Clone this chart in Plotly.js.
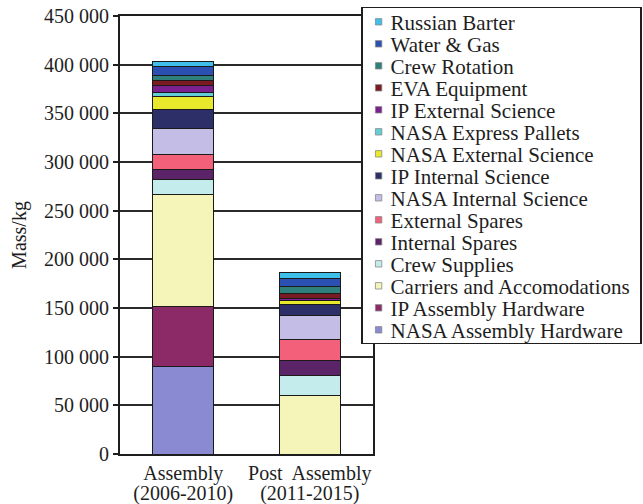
<!DOCTYPE html>
<html>
<head>
<meta charset="utf-8">
<script src="https://cdn.plot.ly/plotly-3.0.1.min.js"></script>
<style>html,body{margin:0;padding:0;background:#fff;}#chart{width:643px;height:504px;}</style>
</head>
<body>
<div id="chart"></div>
<script>
// Categories (x axis)
const categories = ["Assembly<br>(2006-2010)", "Post  Assembly<br>(2011-2015)"];

// Series, bottom of stack first (kg)
const seriesNames = [
  "NASA Assembly Hardware",
  "IP Assembly Hardware",
  "Carriers and Accomodations",
  "Crew Supplies",
  "Internal Spares",
  "External Spares",
  "NASA Internal Science",
  "IP Internal Science",
  "NASA External Science",
  "NASA Express Pallets",
  "IP External Science",
  "EVA Equipment",
  "Crew Rotation",
  "Water & Gas",
  "Russian Barter"
];
const nasaAssembly   = [90000, 0];
const ipAssembly     = [62000, 0];
const carriers       = [115000, 60000];
const crewSupplies   = [15500, 20600];
const internalSpares = [9500, 15100];
const externalSpares = [15500, 21600];
const nasaInternal   = [27400, 24700];
const ipInternal     = [18900, 11300];
const nasaExternal   = [13000, 4100];
const expressPallets = [4800, 0];
const ipExternal     = [6900, 2400];
const evaEquipment   = [5400, 5600];
const crewRotation   = [4900, 6800];
const waterGas       = [8900, 8600];
const russianBarter  = [5800, 5800];

const seriesValues = [nasaAssembly, ipAssembly, carriers, crewSupplies, internalSpares,
  externalSpares, nasaInternal, ipInternal, nasaExternal, expressPallets, ipExternal,
  evaEquipment, crewRotation, waterGas, russianBarter];

const seriesColors = ["#8a8ad2", "#8c2a68", "#f5f5b9", "#c4ecec", "#5b2468",
  "#f2607a", "#c4bee6", "#2c2f68", "#e8e82c", "#62cfd6", "#7b208e",
  "#7a1b24", "#2f7f7c", "#2c50b2", "#3fc0ea"];

// Y axis ticks
const yTickVals = [0, 50000, 100000, 150000, 200000, 250000, 300000, 350000, 400000, 450000];
const yTickText = ["0", "50 000", "100 000", "150 000", "200 000", "250 000", "300 000", "350 000", "400 000", "450 000"];

const serif = "'Liberation Serif', 'Times New Roman', serif";
const ink = "#1e1e1e";

const traces = seriesNames.map((name, i) => ({
  type: "bar",
  name: name,
  x: categories,
  y: seriesValues[i],
  marker: {color: seriesColors[i], line: {color: "#1a1a1a", width: 1}},
  hoverinfo: "skip"
}));

const layout = {
  width: 643, height: 504,
  margin: {l: 120, r: 270, t: 16, b: 50, autoexpand: false},
  paper_bgcolor: "#fff", plot_bgcolor: "#fff",
  barmode: "stack",
  bargap: 0.52,
  font: {family: serif, size: 20, color: ink},
  showlegend: true,
  legend: {
    x: 0.953, xanchor: "left", y: 1.021, yanchor: "top",
    traceorder: "reversed",
    bgcolor: "#fff", bordercolor: ink, borderwidth: 1.5,
    font: {family: serif, size: 21, color: ink},
    itemwidth: 30,
    tracegroupgap: 0,
    maxheight: 1
  },
  xaxis: {
    type: "category",
    range: [-0.5, 1.5],
    showline: true, linecolor: ink, linewidth: 2,
    mirror: true,
    showgrid: false, ticks: "",
    tickfont: {family: serif, size: 20, color: ink},
    fixedrange: true
  },
  yaxis: {
    range: [0, 450000],
    tickvals: yTickVals, ticktext: yTickText,
    showline: true, linecolor: ink, linewidth: 2,
    mirror: true,
    showgrid: true, gridcolor: "#2a2a2a", gridwidth: 2,
    ticks: "outside", ticklen: 5, tickcolor: ink, tickwidth: 2,
    tickfont: {family: serif, size: 20, color: ink},
    title: {text: "Mass/kg", font: {family: serif, size: 20, color: ink}, standoff: 12},
    zeroline: false,
    fixedrange: true
  }
};

// Tighten the legend rows to match the compact reference legend
function tightenLegend(gd) {
  const SP = 22, BOXW = 279, BOXH = 336;
  const legend = gd.querySelector(".legend");
  if (!legend) return;
  const items = Array.from(legend.querySelectorAll("g.traces"));
  const parse = el => {
    const m = (el.getAttribute("transform") || "").match(/translate\(\s*([-\d.e]+)[\s,]+([-\d.e]+)\s*\)/);
    return m ? [parseFloat(m[1]), parseFloat(m[2])] : [0, 0];
  };
  const pos = items.map(parse);
  const order = items.map((el, i) => i).sort((a, b) => pos[a][1] - pos[b][1]);
  if (order.length < 2) return;
  const y0 = (BOXH - SP * (order.length - 1)) / 2 + 1;
  order.forEach((idx, k) => {
    items[idx].setAttribute("transform", "translate(" + pos[idx][0] + "," + (y0 + k * SP) + ")");
    const txt = items[idx].querySelector("text.legendtext");
    if (txt) txt.setAttribute("x", "28");
    items[idx].querySelectorAll(".legendpoints path").forEach(p => {
      const b = p.getBBox();
      const cx = b.x + b.width / 2 - 4, cy = b.y + b.height / 2;
      const h = 3.2;
      p.setAttribute("d", "M" + (cx + h) + "," + (cy + h) + "H" + (cx - h) + "V" + (cy - h) + "H" + (cx + h) + "Z");
      p.style.strokeWidth = "0.8px";
      p.style.stroke = "#888";
    });
  });
  const bg = legend.querySelector("rect.bg");
  if (bg) {
    bg.setAttribute("height", String(BOXH));
    bg.setAttribute("width", String(BOXW));
  }
  const sb = legend.querySelector(".scrollbox");
  if (sb) sb.removeAttribute("clip-path");
  const bar = legend.querySelector("rect.scrollbar");
  if (bar) bar.style.display = "none";
}

// Tighten the two-line category labels
function tightenTicks(gd) {
  gd.querySelectorAll(".xtick text").forEach(t => {
    const lines = t.querySelectorAll("tspan.line");
    lines.forEach((s, i) => { if (i > 0) s.setAttribute("dy", "1.02em"); });
    const y = parseFloat(t.getAttribute("y") || "0");
    t.setAttribute("y", String(y - 4));
  });
}

Plotly.newPlot("chart", traces, layout, {displayModeBar: false, staticPlot: true})
  .then(gd => { tightenLegend(gd); tightenTicks(gd); });
</script>
</body>
</html>
